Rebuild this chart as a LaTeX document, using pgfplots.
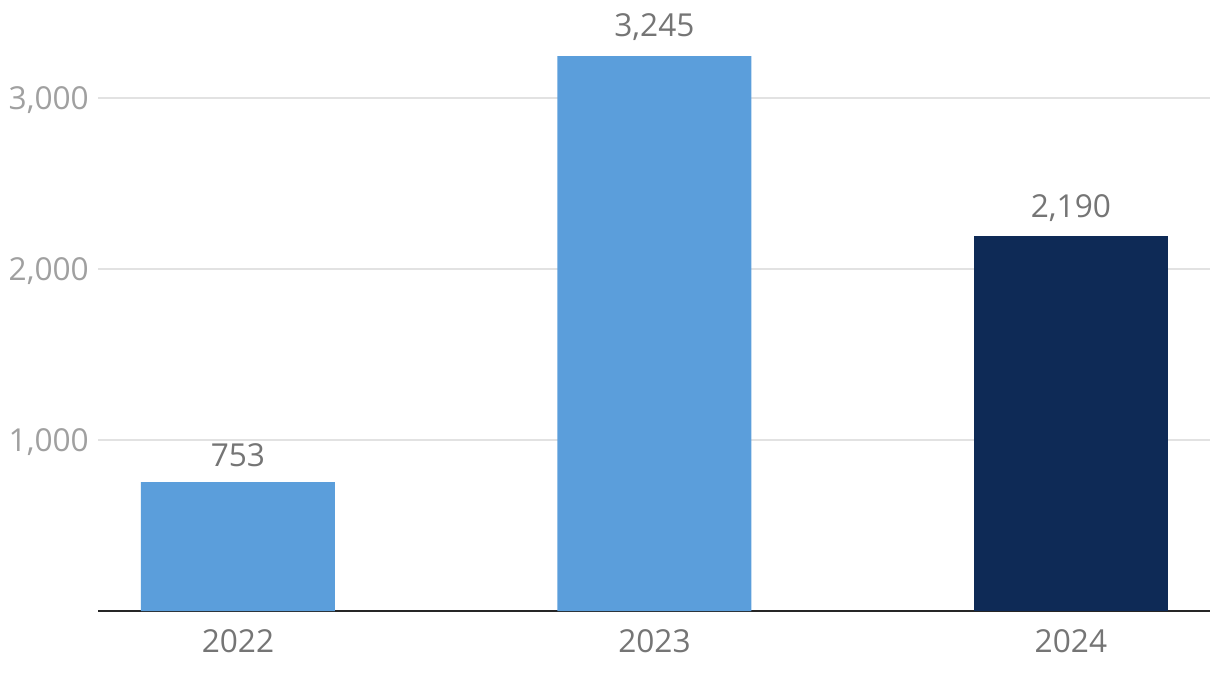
\documentclass[border=0pt]{standalone}
\usepackage{fontspec}
\setmainfont{Open Sans}
\usepackage{pgfplots}
\pgfplotsset{compat=1.18}
\definecolor{barblue}{HTML}{5B9EDB}
\definecolor{barnavy}{HTML}{0E2A56}
\definecolor{ticky}{HTML}{A0A0A0}
\definecolor{labgray}{HTML}{757575}
\definecolor{gridc}{HTML}{E2E2E2}

\begin{document}
\begin{tikzpicture}
\begin{axis}[
  at={(0,0)}, anchor=south west,
  scale only axis,
  width=22.24cm,
  height=12.22cm,
  xmin=-0.336, xmax=2.334,
  ymin=0, ymax=3573,
  axis x line*=bottom,
  axis y line*=left,
  y axis line style={draw=none},
  x axis line style={draw=black!85, line width=1pt},
  ytick={1000,2000,3000},
  yticklabels={1{,}000,2{,}000,3{,}000},
  xtick={0,1,2},
  xticklabels={2022,2023,2024},
  major tick length=0pt,
  ymajorgrids,
  grid style={draw=gridc, line width=0.9pt},
  y tick label style={font=\fontsize{18}{22}\selectfont, color=ticky, anchor=east, xshift=-0.06cm, yshift=-0.04cm},
  x tick label style={font=\fontsize{18}{22}\selectfont, color=labgray, anchor=center, yshift=-0.6cm},
  ybar, bar width=3.88cm, bar shift=0pt,
  nodes near coords,
  nodes near coords style={font=\fontsize{18}{22}\selectfont, color=labgray, anchor=south, inner sep=0pt, yshift=0.3cm,
    /pgf/number format/.cd, fixed, 1000 sep={,}, assume math mode=true},
  clip=false,
]
  \addplot[fill=barblue, draw=none] coordinates {(0,753) (1,3245)};
  \addplot[fill=barnavy, draw=none] coordinates {(2,2190)};
\end{axis}
\pgfresetboundingbox
\path[use as bounding box] (-1.96cm,-1.38cm) rectangle (22.44cm,12.22cm);
\end{tikzpicture}
\end{document}
